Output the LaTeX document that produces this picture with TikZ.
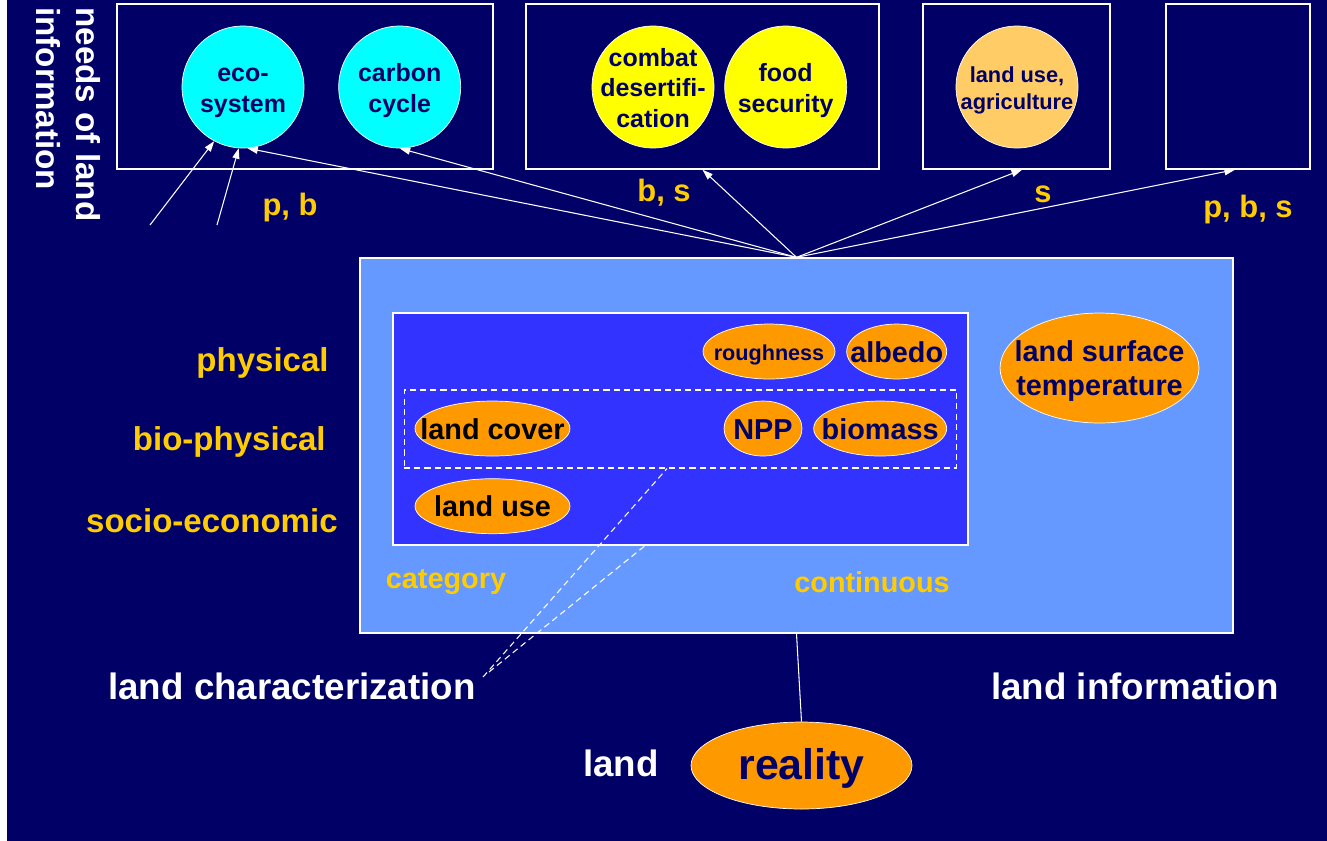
\documentclass[tikz,border=0pt]{standalone}
\usepackage{fontspec}
\setsansfont{Liberation Sans}
\usepackage{tikz}
\usetikzlibrary{shapes.geometric,arrows.meta}
\usetikzlibrary{positioning}
\definecolor{navy}{HTML}{000066}
\definecolor{aqua}{HTML}{00FFFF}
\definecolor{lemon}{HTML}{FFFF00}
\definecolor{peach}{HTML}{FFCC66}
\definecolor{tangerine}{HTML}{FF9900}
\definecolor{amber}{HTML}{FFCC00}
\definecolor{sky}{HTML}{6699FF}
\definecolor{royal}{HTML}{3333FF}
\newcommand{\snug}[1]{\raisebox{-2.2pt}[\height][\depth]{\makebox[0pt]{\begin{tabular}{@{}c@{}}#1\end{tabular}}}}
\newcommand{\fs}[2]{\fontsize{#1}{#2}\selectfont}
\tikzset{
  needbox/.style={draw=white, line width=0.8pt, minimum height=3.3cm, inner sep=0pt},
  need/.style={draw=white, circle, minimum size=2.44cm, inner sep=0pt, text=navy, font=\fs{14.2}{17.2}},
  charac/.style={draw=white, ellipse, fill=tangerine, minimum height=1.1cm, inner sep=0pt, text=navy, font=\fs{16.4}{19.3}},
  codes/.style={text=amber, inner sep=0pt, font=\fs{17.6}{20}},
  layer/.style={text=amber, inner sep=0pt, font=\fs{18.8}{21}, anchor=east},
  caption/.style={text=white, inner sep=0pt, font=\fs{20.9}{24}},
  link/.style={->, white, line width=0.6pt},
  hint/.style={white, line width=0.6pt, dash pattern=on 3.5pt off 2.3pt}
}

\begin{document}
\begin{tikzpicture}[x=0.02cm, y=-0.02cm, >={Triangle[length=6pt,width=4pt]}]
			\sffamily\bfseries
			\useasboundingbox (0,0) rectangle (1327,840);
			\fill[white] (-3,-3) rectangle (7,843);
			\fill[navy] (7,-3) rectangle (1330,843);
			% needs of land information
			\node[rotate=-90, anchor=north west, align=left, text=white, inner sep=0pt, font=\fs{18.9}{22.7}] (needs) at (101,7) {needs of land\\information};
			\node[needbox, minimum width=7.52cm] (boxA) at (305,86.5) {};
			\node[needbox, minimum width=7.06cm] (boxB) at (702.5,86.5) {};
			\node[needbox, minimum width=3.74cm] (boxC) at (1016.5,86.5) {};
			\node[needbox, minimum width=2.88cm] (boxD) at (1238,86.5) {};
			\node[need, fill=aqua] (eco) at (243,87) {\snug{eco-\\system}};
			\node[need, fill=aqua, right=0.68cm of eco] (carbon) {\snug{carbon\\cycle}};
			\node[need, fill=lemon] (combat) at (653,87) {\snug{combat\\desertifi-\\cation}};
			\node[need, fill=lemon, right=0.2cm of combat] (food) {\snug{food\\security}};
			\node[need, fill=peach, font=\fs{12.4}{15}] (agri) at (1017,87) {\snug{land use,\\agriculture}};
			\node[codes] (pb) at (290,207) {p, b};
			\node[codes] (bs) at (664,193) {b, s};
			\node[codes] (s) at (1043,194) {s};
			\node[codes] (pbs) at (1248,209) {p, b, s};
			% land information
			\node[draw=white, line width=0.8pt, fill=sky, minimum width=17.46cm, minimum height=7.5cm, inner sep=0pt] (info) at (796.5,445.5) {};
			\node[draw=white, line width=0.8pt, fill=royal, minimum width=11.5cm, minimum height=4.64cm, inner sep=0pt] (inner) at (680.5,429) {};
			\node[hint, draw=white, minimum width=11.06cm, minimum height=1.56cm, inner sep=0pt] (bio) at (680.5,429) {};
			\node[charac, minimum width=2.64cm, font=\fs{12.3}{14}] (rough) at (769,351.5) {\snug{roughness}};
			\node[charac, minimum width=2cm, right=0.22cm of rough] (albedo) {\snug{albedo}};
			\node[charac, minimum width=3.1cm, text=black] (cover) at (492.5,428.5) {\snug{land cover}};
			\node[charac, minimum width=1.56cm] (npp) at (763,428.5) {\snug{NPP}};
			\node[charac, minimum width=2.66cm, right=0.22cm of npp] (biomass) {\snug{biomass}};
			\node[charac, minimum width=3.1cm, text=black, below=0.44cm of cover] (use) {\snug{land use}};
			\node[charac, minimum width=3.98cm, minimum height=2.2cm] (lst) at (1099.5,368) {\snug{land surface\\temperature}};
			\node[layer] (phys) at (329,363) {physical};
			\node[layer] (biophys) at (326,442) {bio-physical};
			\node[layer] (socio) at (338,521) {socio-economic};
			\node[codes, font=\fs{16.4}{19}] (category) at (446,582) {category};
			\node[codes, font=\fs{16.4}{19}] (continuous) at (872,582) {continuous};
			% land
			\node[caption] (characterization) at (292,686) {land characterization};
			\node[caption] (landinfo) at (1135,686) {land information};
			\node[caption] (land) at (621,763) {land};
			\node[charac, minimum width=4.42cm, minimum height=1.74cm, font=\fs{24.4}{28}] (reality) at (801.5,765.5) {\snug{reality}};
			\draw[white, line width=0.6pt] (info.south) -- (reality.north);
			\draw[hint] ([xshift=0.14cm, yshift=0.18cm]characterization.east) -- ([xshift=-0.27cm]bio.south);
			\draw[hint] ([xshift=0.26cm, yshift=0.28cm]characterization.east) -- ([xshift=-0.71cm]inner.south);
			% arrows to the needs
			\coordinate (hub) at (info.north);
			\coordinate (fromA) at (150,225);
			\coordinate (fromB) at (217,225);
			\draw[link] (hub) -- (eco.-86);
			\draw[link] (hub) -- (carbon.south);
			\draw[link] (hub) -- (boxB.south);
			\draw[link] (hub) -- ([xshift=0.11cm]boxC.south);
			\draw[link] (hub) -- ([xshift=-0.06cm]boxD.south);
			\draw[link] (fromA) -- (eco.-118);
			\draw[link] (fromB) -- (eco.-94);
		\end{tikzpicture}
\end{document}
